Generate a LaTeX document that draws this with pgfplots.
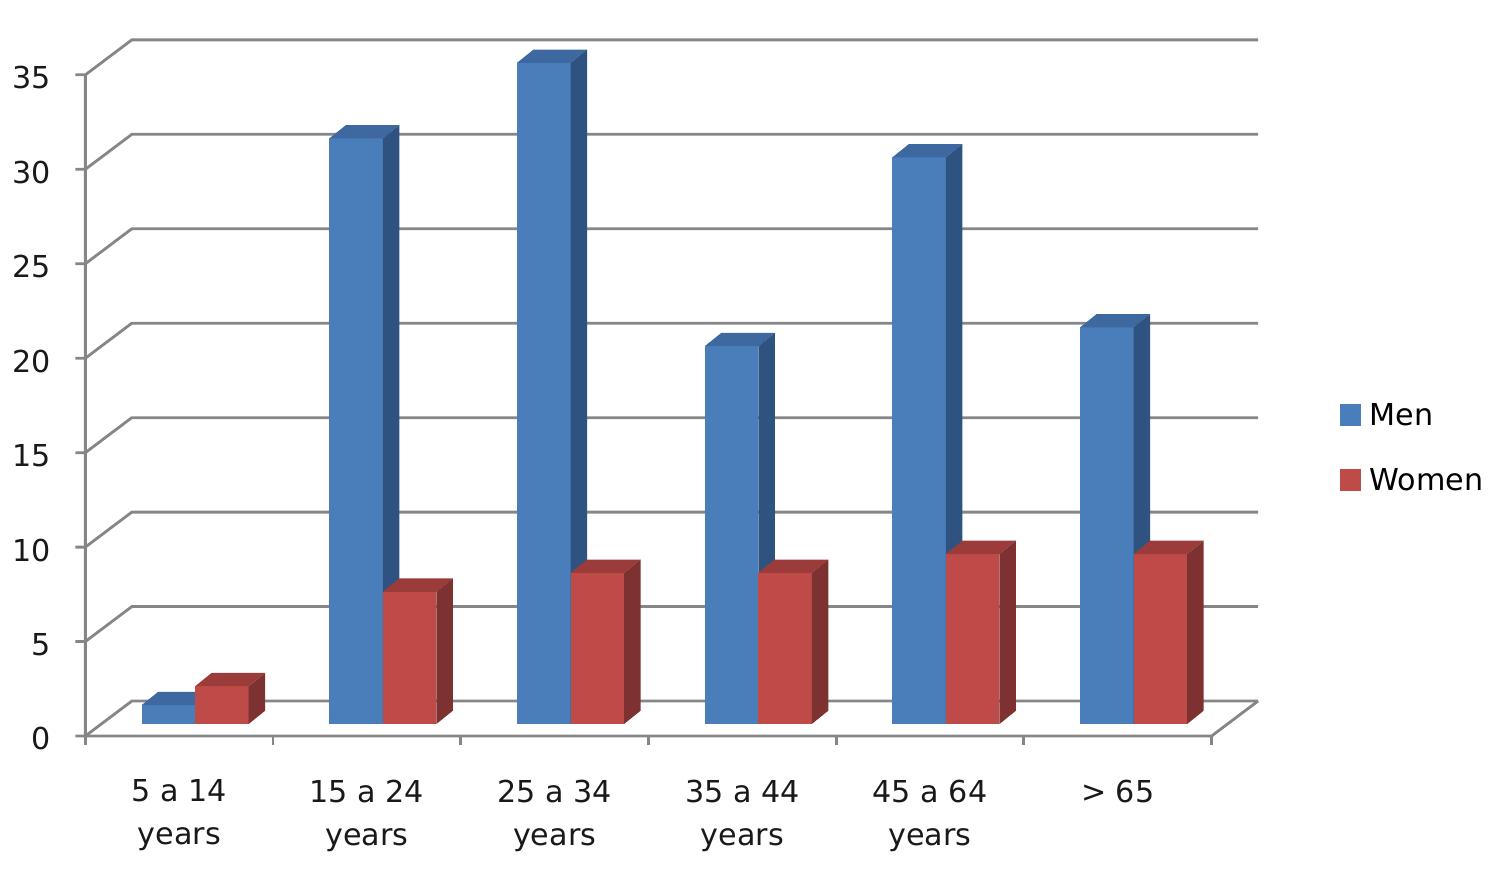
\documentclass[border=0pt]{standalone}
\usepackage{pgfplots}
\usepackage{pgfplotstable}
\pgfplotsset{compat=1.18}
\usepackage{fontspec}
\setmainfont{DejaVu Sans}

\definecolor{gridc}{HTML}{868686}
\definecolor{menfront}{HTML}{4A7EBB}
\definecolor{mentop}{HTML}{3D69A0}
\definecolor{menside}{HTML}{2F5381}
\definecolor{womenfront}{HTML}{BE4B48}
\definecolor{womentop}{HTML}{9C3C3A}
\definecolor{womenside}{HTML}{7D3130}

\pgfplotstableread{
cat men women
0 1 2
1 31 7
2 35 8
3 20 8
4 30 9
5 21 9
}\agedata

\newcommand\fy{0.635}
\newcommand\bw{0.285}
\newcommand\ddx{0.0879}
\newcommand\ddy{0.704}

\newcommand\drawbar[3]{%
 \pgfmathsetmacro\xa{#1}%
 \pgfmathsetmacro\xb{#1+\bw}%
 \pgfmathsetmacro\xc{#1+\bw+\ddx}%
 \pgfmathsetmacro\xd{#1+\ddx}%
 \pgfmathsetmacro\ya{\fy}%
 \pgfmathsetmacro\yb{\fy+#2}%
 \pgfmathsetmacro\yc{\fy+#2+\ddy}%
 \pgfmathsetmacro\yd{\fy+\ddy}%
 \edef\tmp{%
  \noexpand\addplot[fill=#3front,draw=none,mark=none,forget plot] coordinates {(\xa,\ya) (\xb,\ya) (\xb,\yb) (\xa,\yb)};
  \noexpand\addplot[fill=#3top,draw=none,mark=none,forget plot] coordinates {(\xa,\yb) (\xb,\yb) (\xc,\yc) (\xd,\yc)};
  \noexpand\addplot[fill=#3side,draw=none,mark=none,forget plot] coordinates {(\xb,\ya) (\xc,\yd) (\xc,\yc) (\xb,\yb)};
 }\tmp}

\begin{document}
\begin{tikzpicture}
\begin{axis}[
 scale only axis, width=375bp, height=217.75bp,
 xmin=-0.9526, xmax=7.0346, ymin=-7.1429, ymax=38.942,
 axis line style={draw=none}, major tick length=0pt,
 clip=false,
 xtick={0,...,5},
 xticklabels={{5 a 14\\years},{15 a 24\\years},{25 a 34\\years},{35 a 44\\years},{45 a 64\\years},{> 65}},
 xticklabel style={align=center, anchor=north, inner sep=0pt, yshift=23bp},
 ytick={0,5,...,35},
 yticklabel style={anchor=east, inner sep=0pt, xshift=12.75bp, yshift=-0.75bp},
 /pgf/number format/assume math mode=true,
 tick label style={font=\fontsize{7.55bp}{10.75bp}\selectfont, text=black!90},
 legend image code/.code={\fill[#1] (0bp,-2.5bp) rectangle (4.75bp,2.5bp);},
 legend cell align=left,
 legend style={at={(axis cs:6.185,17.58)}, anchor=north west, draw=none, fill=none,
   inner sep=0pt, outer sep=0pt, row sep=10.75bp,
   font=\fontsize{7.55bp}{9bp}\selectfont,
   nodes={inner sep=0pt, text height=5.5bp, text depth=0pt},
   /tikz/every odd column/.append style={column sep=2.2bp}},
]
% walls: side-wall diagonals and back-wall gridlines
\addplot[gridc, line width=0.7bp, mark=none, forget plot] coordinates {(-0.553,0) (-0.5,0) (-0.2524,1.852) (5.7476,1.852)};
\addplot[gridc, line width=0.7bp, mark=none, forget plot] coordinates {(-0.553,5) (-0.5,5) (-0.2524,6.852) (5.7476,6.852)};
\addplot[gridc, line width=0.7bp, mark=none, forget plot] coordinates {(-0.553,10) (-0.5,10) (-0.2524,11.852) (5.7476,11.852)};
\addplot[gridc, line width=0.7bp, mark=none, forget plot] coordinates {(-0.553,15) (-0.5,15) (-0.2524,16.852) (5.7476,16.852)};
\addplot[gridc, line width=0.7bp, mark=none, forget plot] coordinates {(-0.553,20) (-0.5,20) (-0.2524,21.852) (5.7476,21.852)};
\addplot[gridc, line width=0.7bp, mark=none, forget plot] coordinates {(-0.553,25) (-0.5,25) (-0.2524,26.852) (5.7476,26.852)};
\addplot[gridc, line width=0.7bp, mark=none, forget plot] coordinates {(-0.553,30) (-0.5,30) (-0.2524,31.852) (5.7476,31.852)};
\addplot[gridc, line width=0.7bp, mark=none, forget plot] coordinates {(-0.553,35) (-0.5,35) (-0.2524,36.852) (5.7476,36.852)};
% front axis and floor
\addplot[gridc, line width=0.7bp, mark=none, forget plot] coordinates {(-0.5,35) (-0.5,0) (5.5,0) (5.7476,1.852)};
\addplot[gridc, line width=0.7bp, mark=none, ycomb, forget plot] coordinates {(-0.5,-0.476) (0.5,-0.476) (1.5,-0.476) (2.5,-0.476) (3.5,-0.476) (4.5,-0.476) (5.5,-0.476)};
% bars
\pgfplotsforeachungrouped \i in {0,...,5}{%
 \pgfplotstablegetelem{\i}{men}\of\agedata \let\mval\pgfplotsretval
 \pgfplotstablegetelem{\i}{women}\of\agedata \let\wval\pgfplotsretval
 \pgfmathsetmacro\lm{\i-0.2001}%
 \pgfmathsetmacro\lw{\i+0.0849}%
 \drawbar{\lm}{\mval}{men}%
 \drawbar{\lw}{\wval}{women}%
}
\addlegendimage{menfront}
\addlegendentry{Men}
\addlegendimage{womenfront}
\addlegendentry{Women}
\end{axis}
\end{tikzpicture}
\end{document}
